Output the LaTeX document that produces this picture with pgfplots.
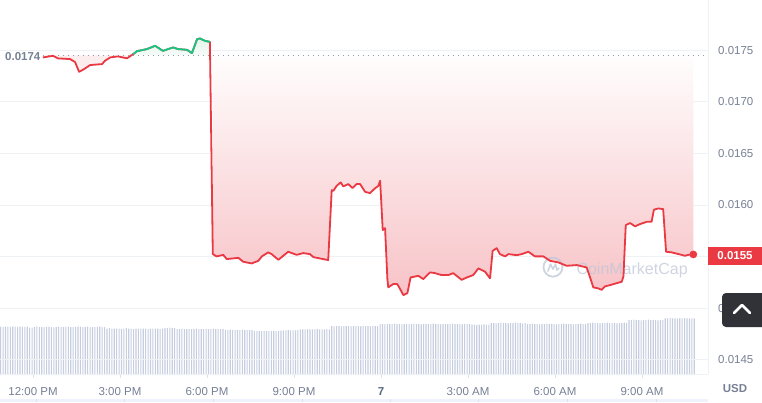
\documentclass[border=0pt]{standalone}
\usepackage{fontspec}
\setmainfont{Liberation Sans}
\usepackage{pgfplots}
\usepackage{pgfplotstable}
\pgfplotsset{compat=1.18}

\definecolor{cmcred}{RGB}{234,57,67}
\definecolor{cmcgreen}{RGB}{22,199,132}
\definecolor{gridc}{RGB}{239,242,245}
\definecolor{tickc}{RGB}{220,224,232}
\definecolor{labc}{RGB}{118,128,148}
\definecolor{darklab}{RGB}{88,102,126}
\definecolor{volc}{RGB}{198,205,223}
\definecolor{wmc}{RGB}{190,198,214}
\definecolor{btnc}{RGB}{48,50,56}
\definecolor{stripc}{RGB}{239,242,252}

% price: hours after 12:00 PM, USD
\pgfplotstableread{
h v
0.34 0.017429
0.69 0.017445
0.86 0.017420
1.28 0.017413
1.45 0.017384
1.59 0.017290
1.72 0.017309
1.97 0.017355
2.21 0.017361
2.38 0.017364
2.48 0.017396
2.66 0.017429
2.93 0.017439
3.10 0.017429
3.24 0.017420
3.45 0.017461
3.59 0.017490
3.93 0.017510
4.21 0.017542
4.48 0.017493
4.83 0.017526
5.00 0.017510
5.31 0.017503
5.48 0.017471
5.66 0.017607
5.76 0.017613
5.93 0.017590
6.10 0.017580
6.20 0.015523
6.33 0.015501
6.56 0.015516
6.68 0.015475
7.08 0.015487
7.25 0.015449
7.54 0.015433
7.77 0.015458
7.89 0.015501
8.11 0.015540
8.23 0.015523
8.46 0.015468
8.80 0.015546
9.09 0.015516
9.32 0.015533
9.55 0.015523
9.67 0.015494
9.90 0.015481
10.18 0.015465
10.30 0.016143
10.36 0.016137
10.47 0.016185
10.61 0.016218
10.70 0.016179
10.87 0.016202
11.02 0.016163
11.16 0.016202
11.28 0.016202
11.45 0.016127
11.62 0.016114
11.79 0.016160
11.91 0.016185
11.97 0.016234
12.06 0.015756
12.14 0.015775
12.22 0.015281
12.25 0.015201
12.42 0.015233
12.56 0.015233
12.66 0.015184
12.77 0.015126
12.91 0.015145
13.02 0.015297
13.29 0.015313
13.46 0.015281
13.69 0.015346
13.86 0.015339
14.09 0.015320
14.32 0.015320
14.49 0.015339
14.78 0.015274
14.96 0.015297
15.18 0.015320
15.36 0.015385
15.59 0.015352
15.76 0.015288
15.85 0.015555
15.99 0.015581
16.10 0.015523
16.28 0.015501
16.39 0.015523
16.68 0.015513
16.85 0.015523
17.08 0.015546
17.31 0.015501
17.60 0.015501
17.83 0.015458
18.11 0.015443
18.40 0.015410
18.75 0.015417
19.09 0.015394
19.21 0.015297
19.32 0.015201
19.49 0.015191
19.61 0.015177
19.72 0.015210
19.90 0.015223
20.13 0.015242
20.30 0.015255
20.36 0.015307
20.44 0.015804
20.59 0.015824
20.76 0.015792
20.93 0.015814
21.16 0.015836
21.33 0.015836
21.41 0.015953
21.56 0.015966
21.73 0.015959
21.83 0.015546
22.02 0.015540
22.31 0.015520
22.48 0.015507
22.60 0.015516
22.77 0.015520
}\price

\begin{document}
\begin{tikzpicture}[x=1pt,y=1pt]
\useasboundingbox (0,0) rectangle (762,402);

% volume bars, one per 5 minutes
\begin{axis}[at={(0,27)}, anchor=south west, scale only axis,
  width=708pt, height=375pt,
  xmin=-1.138, xmax=23.276, ymin=0, ymax=375, hide axis]
\addplot[ybar, bar width=1.1pt, fill=volc, draw=none]
  table[row sep=\\, x expr=\coordindex/12-1.114, y=v] {v\\
48.3\\48.0\\48.3\\48.3\\48.1\\48.3\\48.3\\48.0\\48.3\\48.3\\48.2\\48.3\\
47.3\\47.5\\
48.0\\48.3\\48.0\\47.8\\48.0\\48.3\\48.3\\48.0\\47.7\\48.0\\48.3\\48.0\\48.0\\48.3\\48.3\\
48.0\\47.8\\48.0\\48.3\\48.3\\48.0\\48.0\\48.3\\48.0\\47.8\\48.0\\48.3\\48.3\\48.0\\48.0\\
46.3\\46.8\\46.3\\46.3\\46.5\\46.3\\46.0\\46.3\\46.8\\46.3\\46.3\\46.0\\46.3\\46.3\\46.5\\
46.3\\46.3\\46.0\\46.3\\46.3\\46.5\\46.3\\46.0\\46.3\\46.8\\
47.0\\47.3\\47.0\\47.0\\
46.0\\46.0\\46.3\\46.0\\46.0\\45.8\\46.0\\46.0\\46.3\\46.0\\46.0\\46.0\\45.8\\46.0\\46.0\\
46.3\\46.0\\46.0\\45.8\\46.0\\
45.0\\45.0\\45.3\\45.0\\44.8\\45.0\\45.0\\45.3\\45.0\\44.8\\45.0\\45.0\\
44.0\\44.0\\44.2\\44.0\\44.0\\43.8\\44.0\\44.0\\44.2\\44.0\\44.0\\44.3\\
44.7\\44.7\\45.0\\44.7\\44.7\\44.7\\45.0\\
45.7\\45.7\\45.7\\46.0\\45.7\\45.7\\45.7\\46.0\\45.7\\45.7\\45.7\\46.0\\45.7\\
49.0\\48.7\\49.0\\49.0\\48.7\\49.0\\49.0\\49.0\\48.7\\49.0\\49.0\\49.0\\48.7\\49.0\\49.0\\
49.0\\48.7\\49.0\\49.0\\49.0\\
51.0\\51.0\\50.7\\51.0\\51.0\\51.0\\51.3\\51.0\\51.0\\50.7\\51.0\\51.0\\51.0\\51.0\\51.3\\
51.0\\51.0\\50.7\\51.0\\51.0\\51.0\\51.0\\51.3\\51.0\\51.0\\50.7\\51.0\\51.0\\51.0\\51.0\\
51.3\\51.0\\51.0\\51.0\\50.7\\51.0\\51.0\\51.0\\
50.3\\50.3\\50.0\\50.3\\50.3\\50.6\\50.3\\50.3\\
52.0\\52.0\\51.7\\52.0\\52.3\\52.0\\52.0\\51.7\\52.0\\52.0\\52.3\\52.0\\52.0\\51.7\\52.0\\
51.0\\51.0\\51.3\\51.0\\51.0\\50.7\\51.0\\51.0\\51.3\\51.0\\51.0\\51.0\\50.7\\51.0\\51.0\\
51.3\\51.0\\51.0\\51.0\\50.7\\51.0\\51.0\\51.3\\51.0\\51.0\\
52.0\\52.0\\52.3\\52.0\\52.0\\51.7\\52.0\\52.0\\52.3\\52.0\\52.0\\52.0\\51.7\\52.0\\52.0\\
52.3\\52.0\\
55.0\\55.0\\55.3\\55.0\\55.0\\54.7\\55.0\\55.0\\55.3\\55.0\\55.0\\55.0\\54.7\\55.0\\55.0\\
56.7\\56.7\\57.0\\56.7\\56.7\\56.4\\56.7\\56.7\\57.0\\56.7\\56.7\\56.7\\56.7\\
};
\end{axis}

% price
\begin{axis}[at={(0,27)}, anchor=south west, scale only axis,
  width=708pt, height=375pt,
  xmin=-1.138, xmax=23.276, ymin=0.01436, ymax=0.017994,
  axis x line*=bottom, axis y line*=right,
  axis line style={-, draw=gridc, line width=0.8pt},
  ymajorgrids, grid style={draw=gridc, line width=0.8pt},
  scaled y ticks=false,
  ytick={0.0145,0.015,0.0155,0.016,0.0165,0.017,0.0175},
  yticklabels={0.0145,0.0150,,0.0160,0.0165,0.0170,0.0175},
  xtick={0,3,6,9,12,15,18,21},
  xticklabels={12:00 PM,3:00 PM,6:00 PM,9:00 PM,{\bfseries\textcolor{darklab}{7}},3:00 AM,6:00 AM,9:00 AM},
  tick align=outside, major tick length=4pt,
  ytick style={draw=none},
  xtick style={draw=tickc, line width=0.8pt},
  tick label style={font=\fontsize{11.5}{13}\selectfont, text=labc},
  xticklabel style={anchor=base, yshift=-17pt},
  yticklabel style={anchor=west, inner sep=0pt, xshift=6pt}]
% areas between the price and the opening price 0.01745
\addplot[draw=none, fill={rgb,255:red,252;green,238;blue,239},
  restrict expr to domain={\coordindex}{0:14}] table[x=h, y=v] {\price}
  -- (axis cs:3.24,0.01745) -- (axis cs:0.34,0.01745) -- cycle;
\addplot[draw=none, top color={rgb,255:red,226;green,246;blue,236}, bottom color={rgb,255:red,246;green,252;blue,249},
  restrict expr to domain={\coordindex}{15:27}] table[x=h, y=v] {\price}
  -- (axis cs:6.10,0.01745) -- (axis cs:3.45,0.01745) -- cycle;
\addplot[draw=none, top color={rgb,255:red,255;green,253;blue,253}, bottom color={rgb,255:red,247;green,195;blue,199},
  restrict expr to domain={\coordindex}{28:122}] table[x=h, y=v] {\price}
  -- (axis cs:22.77,0.01745) -- (axis cs:6.20,0.01745) -- cycle;

% watermark
\node[anchor=base west, text=wmc, opacity=0.75, font=\fontsize{16}{16}\selectfont]
  at (axis cs:18.62,0.015329) {CoinMarketCap};
\draw[wmc, opacity=0.75, line width=1.8pt] (axis cs:17.93,0.015397) circle[radius=9.5pt];
\draw[wmc, opacity=0.75, line width=1.6pt, line join=round, line cap=round]
  (axis cs:17.93,0.015397) ++(-5pt,-4pt) -- ++(2.5pt,7pt) -- ++(2.5pt,-5pt)
  -- ++(2.5pt,5pt) -- ++(1.5pt,-6pt) -- ++(2pt,2pt);

\addplot[draw={rgb,255:red,150;green,155;blue,168}, line width=1.1pt,
  dash pattern=on 1.1pt off 3.9pt] coordinates {(0.34,0.01745) (23.2,0.01745)};
\addplot[cmcred, line width=1.8pt, line join=round] table[x=h, y=v] {\price};
\addplot[cmcgreen, line width=1.8pt, line join=round,
  restrict expr to domain={\coordindex}{15:27}] table[x=h, y=v] {\price};
\addplot[only marks, mark=*, mark size=3.6pt, cmcred] coordinates {(22.77,0.01552)};
\end{axis}

% current price tag
\fill[cmcred] (708,137) rectangle (762,155);
\node[text=white, font=\bfseries\fontsize{11.5}{13}\selectfont] at (735,146) {0.0155};
% opening price label
\node[anchor=west, inner sep=0pt, text=labc, font=\bfseries\fontsize{11.5}{13}\selectfont] at (5,345) {0.0174};
% currency
\node[anchor=base, text=labc, font=\bfseries\fontsize{11.5}{13}\selectfont] at (735,10) {USD};
% scroll-up button
\fill[btnc, rounded corners=4pt] (722,75) rectangle (766,109);
\draw[white, line width=2.6pt, line cap=round, line join=round] (734,89) -- (742,97) -- (750,89);
% range strip
\fill[stripc] (0,0) rectangle (708,3.5);
\foreach \t in {36,124,213,302,390,478,567,656} \draw[tickc, line width=0.8pt] (\t,0) -- (\t,3.5);
\end{tikzpicture}
\end{document}
